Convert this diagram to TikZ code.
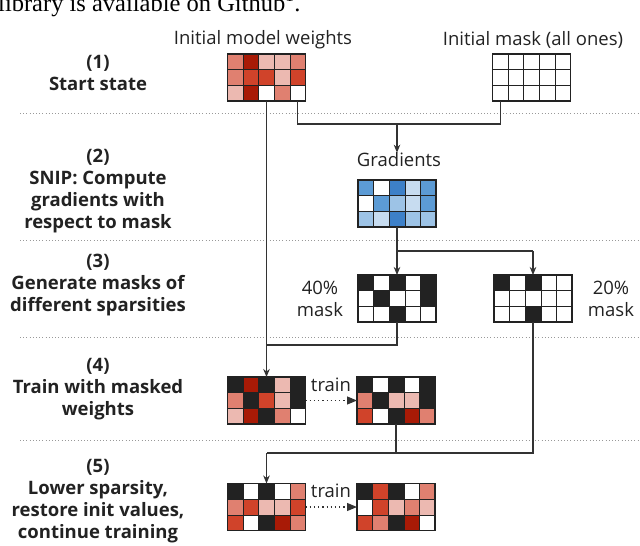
\documentclass[tikz,border=0pt]{standalone}
\usepackage{fontspec}
\setmainfont{Open Sans}
\newfontfamily\serifnote{Liberation Serif}
\usetikzlibrary{calc,arrows.meta}
\definecolor{cdr}{HTML}{A81A06}
\definecolor{crd}{HTML}{D0432A}
\definecolor{csa}{HTML}{E08070}
\definecolor{cpk}{HTML}{ECB9B1}
\definecolor{cbk}{HTML}{222222}
\definecolor{bdk}{HTML}{3D80C8}
\definecolor{bmd}{HTML}{5C9BD5}
\definecolor{blm}{HTML}{9DC3E6}
\definecolor{blt}{HTML}{C7DCF0}
\definecolor{ink}{HTML}{222222}
\definecolor{wire}{HTML}{333333}
\tikzset{
  gridbox/.style={minimum width=78pt,minimum height=47pt,inner sep=0pt,outer sep=0pt},
  cellline/.style={draw=ink,line width=0.6pt},
  gridborder/.style={draw=ink,line width=1.2pt},
  lbl/.style={font=\fontsize{18.5}{21.5}\selectfont,text=ink,align=center,inner sep=0pt},
  steplbl/.style={font=\bfseries\fontsize{18.5}{22}\selectfont,text=ink,align=center,inner sep=0pt},
  sep/.style={draw=gray!80,line width=0.9pt,dash pattern=on 1pt off 2.2pt},
  conn/.style={draw=wire,line width=1.1pt},
  arr/.style={conn,-{Stealth[length=8pt,width=6.5pt,inset=2.5pt]}},
  trainarr/.style={draw=wire,line width=1.1pt,dash pattern=on 1.2pt off 3pt,-{Triangle[length=10pt,width=8pt]}}
}
\newcommand\mkgrid[3]{%
  \node[gridbox] (#1) at (#2) {};
  \foreach \c [count=\i from 0] in {#3} {%
    \pgfmathtruncatemacro\cc{mod(\i,5)}%
    \pgfmathtruncatemacro\rr{div(\i,5)}%
    \fill[\c] ($(#1.north west)+(\cc*15.6,\rr*15.667)$) rectangle ++(15.6,15.667);
  }
  \foreach \k in {1,...,4} \draw[cellline] ($(#1.north west)+(\k*15.6,0)$) -- ++(0,47);
  \foreach \k in {1,2} \draw[cellline] ($(#1.north west)+(0,\k*15.667)$) -- ++(78,0);
  \draw[gridborder] (#1.north west) rectangle (#1.south east);
}
\begin{document}
\begin{tikzpicture}[x=1pt,y=-1pt]
\useasboundingbox (0,0) rectangle (640,546);
\fill[white] (0,0) rectangle (640,546);

% clipped caption text from page
\node[anchor=base west,inner sep=0pt,font=\serifnote\fontsize{24.5}{24.5}\selectfont,text=black] (cap) at (-2,11) {library is available on Github\textsuperscript{1}.};

% separators
\foreach \yy in {113,240,337,440} \draw[sep] (20,\yy) -- (640,\yy);

% step labels
\node[steplbl] (s1) at (98,73) {(1)\\Start state};
\node[steplbl] (s2) at (98,191) {(2)\\SNIP: Compute\\gradients with\\respect to mask};
\node[steplbl] (s3) at (98,285) {(3)\\Generate masks of\\different sparsities};
\node[steplbl] (s4) at (98,389) {(4)\\Train with masked\\weights};
\node[steplbl] (s5) at (98,501) {(5)\\Lower sparsity,\\restore init values,\\continue training};

% text labels
\node[lbl] (lw) at (263,40) {Initial model weights};
\node[lbl] (lm) at (533,40) {Initial mask (all ones)};
\node[lbl] (lg) at (399,160) {Gradients};
\node[lbl] (l40) at (320,299) {40\%\\mask};
\node[lbl] (l20) at (611,299) {20\%\\mask};
\node[lbl] (lt1) at (331,385) {train};
\node[lbl] (lt2) at (331,491) {train};

% grids
\mkgrid{W}{266.5,77.5}{csa,cdr,cpk,cpk,csa, csa,crd,crd,cpk,crd, cpk,cdr,white,csa,white}
\mkgrid{M}{531.5,77.5}{white,white,white,white,white, white,white,white,white,white, white,white,white,white,white}
\mkgrid{G}{397,203.5}{bmd,white,bdk,blt,bmd, white,bmd,blm,blt,bmd, blm,blt,bdk,blm,blm}
\mkgrid{MA}{397,298.5}{cbk,white,cbk,white,cbk, white,cbk,white,white,cbk, white,white,cbk,white,white}
\mkgrid{MB}{533,298.5}{cbk,white,cbk,white,white, white,white,white,white,white, white,white,cbk,white,white}
\mkgrid{T1}{266.5,400.5}{cbk,cdr,cbk,cpk,cbk, csa,cbk,crd,cpk,cbk, cpk,cdr,cbk,csa,white}
\mkgrid{T2}{396,400.5}{cbk,white,cbk,white,cbk, csa,cbk,cpk,cpk,cbk, crd,white,cbk,cdr,csa}
\mkgrid{R1}{266.5,507}{cbk,white,cbk,white,csa, csa,crd,cpk,cpk,crd, crd,white,cbk,cdr,csa}
\mkgrid{R2}{396,507}{cbk,crd,cbk,white,csa, white,crd,cpk,csa,cpk, crd,csa,cbk,cdr,white}

% junction coordinates
\coordinate (w5) at ($(W.south)+(31.2,0)$);
\coordinate (m1) at ($(M.south)+(-31.2,0)$);
\coordinate (ja) at ($(w5)+(0,23)$);
\coordinate (jb) at ($(m1)+(0,23)$);
\coordinate (jg) at (ja -| G);
\coordinate (jc) at ($(G.south)+(0,24)$);
\coordinate (jd) at (jc -| MB);
\coordinate (je) at ($(MA.south)+(0,23)$);
\coordinate (jf) at (je -| T1);
\coordinate (jh) at ($(T2.south)+(0,29)$);
\coordinate (ji) at (jh -| MB);
\coordinate (jj) at (jh -| R1);
\coordinate (lgt) at (lg.north -| G);

% connectors
\draw[arr] (W.south) -- (T1.north);
\draw[conn] (w5) -- (ja) -- (jb) -- (m1);
\draw[arr] (jg) -- (lgt);
\draw[conn] (G.south) -- (jc) -- (jd);
\draw[arr] (jc) -- (MA.north);
\draw[arr] (jd) -- (MB.north);
\draw[conn] (MA.south) -- (je) -- (jf);
\draw[conn] (T2.south) -- (jh);
\draw[conn] (MB.south) -- (ji) -- (jj);
\draw[arr] (jj) -- (R1.north);

% train arrows
\draw[trainarr] (T1.east) -- (T2.west);
\draw[trainarr] (R1.east) -- (R2.west);
\end{tikzpicture}
\end{document}
